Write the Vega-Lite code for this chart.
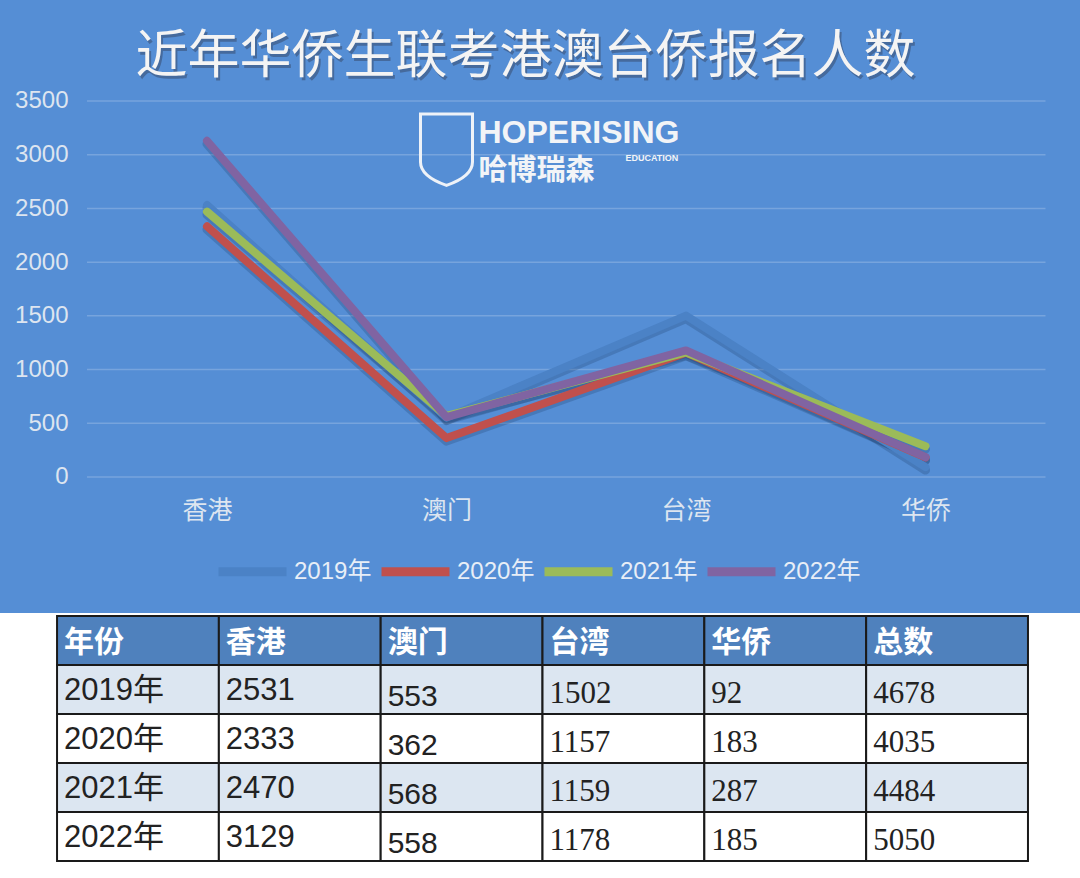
{
  "$schema": "https://vega.github.io/schema/vega-lite/v6.json",
  "background": "white",
  "padding": 0,
  "spacing": 2,
  "config": {"view": {"stroke": null}, "font": "Noto Sans CJK SC"},
  "datasets": {
    "reg": [
      {"年份": "2019年", "香港": 2531, "澳门": 553, "台湾": 1502, "华侨": 92, "总数": 4678},
      {"年份": "2020年", "香港": 2333, "澳门": 362, "台湾": 1157, "华侨": 183, "总数": 4035},
      {"年份": "2021年", "香港": 2470, "澳门": 568, "台湾": 1159, "华侨": 287, "总数": 4484},
      {"年份": "2022年", "香港": 3129, "澳门": 558, "台湾": 1178, "华侨": 185, "总数": 5050}
    ],
    "header": [{"col": "年份"}, {"col": "香港"}, {"col": "澳门"}, {"col": "台湾"}, {"col": "华侨"}, {"col": "总数"}],
    "grid": [{"v": 0}, {"v": 500}, {"v": 1000}, {"v": 1500}, {"v": 2000}, {"v": 2500}, {"v": 3000}, {"v": 3500}]
  },
  "resolve": {"scale": {"x": "independent", "y": "independent", "color": "independent", "fill": "independent"}},
  "vconcat": [
    {
      "width": 1080,
      "height": 613,
      "view": {"fill": "#558ed5", "stroke": null},
      "layer": [
        {
          "data": {"name": "grid"},
          "mark": {"type": "rule", "color": "#ffffff", "opacity": 0.2, "strokeWidth": 1.5, "xOffset": -120, "x2Offset": 120},
          "encoding": {
            "x": {"datum": "香港", "type": "nominal", "scale": {"type": "point", "domain": ["香港", "澳门", "台湾", "华侨"], "padding": 0.7547, "align": 0.5726},
                  "axis": {"title": null, "orient": "bottom", "offset": -103, "labelAngle": 0, "domain": false, "ticks": false, "grid": false, "labelPadding": 0, "labelBaseline": "middle", "labelAlign": "center", "labelFontSize": 25, "labelColor": "#dde5f0", "labelFont": "Noto Sans CJK SC"}},
            "x2": {"datum": "华侨"},
            "y": {"field": "v", "type": "quantitative", "scale": {"domain": [-1266, 4440], "nice": false, "zero": false},
                  "axis": {"title": null, "orient": "left", "offset": -68, "format": "d", "values": [0, 500, 1000, 1500, 2000, 2500, 3000, 3500], "domain": false, "ticks": false, "grid": false, "labelPadding": 0, "labelFontSize": 24, "labelColor": "#dde5f0", "labelFont": "Liberation Sans", "labelBaseline": "middle"}}
          }
        },
        {
          "data": {"name": "reg"},
          "transform": [{"fold": ["香港", "澳门", "台湾", "华侨"], "as": ["region", "count"]}],
          "mark": {"type": "line", "color": "#1d3b66", "opacity": 0.25, "strokeWidth": 9, "yOffset": 3, "strokeCap": "round", "strokeJoin": "round"},
          "encoding": {
            "x": {"field": "region", "type": "nominal"},
            "y": {"field": "count", "type": "quantitative"},
            "detail": {"field": "年份", "type": "nominal"},
            "order": {"value": null}
          }
        },
        {
          "data": {"name": "reg"},
          "transform": [{"fold": ["香港", "澳门", "台湾", "华侨"], "as": ["region", "count"]}],
          "mark": {"type": "line", "strokeWidth": 8, "strokeCap": "round", "strokeJoin": "round"},
          "encoding": {
            "x": {"field": "region", "type": "nominal"},
            "y": {"field": "count", "type": "quantitative"},
            "order": {"value": null},
            "color": {"field": "年份", "type": "nominal",
                      "scale": {"domain": ["2019年", "2020年", "2021年", "2022年"], "range": ["#4b82c6", "#c0504d", "#9bbb59", "#8064a2"]},
                      "legend": {"orient": "none", "legendX": 214, "legendY": 533, "direction": "horizontal", "title": null, "symbolType": "stroke", "symbolStrokeWidth": 9, "symbolSize": 4624, "labelFontSize": 24, "labelColor": "#e8eef7", "labelFont": "Liberation Sans, Noto Sans CJK SC", "columnPadding": -9, "labelOffset": 3, "symbolOpacity": 1}}
          }
        },
        {
          "data": {"values": [{}]},
          "mark": {"type": "text", "text": "近年华侨生联考港澳台侨报名人数", "align": "center", "baseline": "middle", "font": "Noto Sans CJK SC", "fontSize": 52, "color": "#33405a", "opacity": 0.45, "dx": 81, "dy": 4},
          "encoding": {"x": {"datum": "澳门"}, "y": {"datum": 3919}}
        },
        {
          "data": {"values": [{}]},
          "mark": {"type": "text", "text": "近年华侨生联考港澳台侨报名人数", "align": "center", "baseline": "middle", "font": "Noto Sans CJK SC", "fontSize": 52, "color": "#f4f4f4", "dx": 79, "dy": 1},
          "encoding": {"x": {"datum": "澳门"}, "y": {"datum": 3919}}
        },
        {
          "data": {"values": [{}]},
          "mark": {"type": "point", "shape": "M-1,-1.35 L1,-1.35 L1,0.5 Q1,1.05 0,1.4 Q-1,1.05 -1,0.5 Z", "size": 2704, "filled": false, "stroke": "#eef2f8", "strokeWidth": 3, "opacity": 1},
          "encoding": {"x": {"datum": "澳门"}, "y": {"datum": 3053}}
        },
        {
          "data": {"values": [{}]},
          "mark": {"type": "text", "text": "HOPERISING", "align": "left", "baseline": "middle", "font": "Liberation Sans", "fontWeight": "bold", "fontSize": 32, "color": "#f2f4f7", "dx": 32},
          "encoding": {"x": {"datum": "澳门"}, "y": {"datum": 3202}}
        },
        {
          "data": {"values": [{}]},
          "mark": {"type": "text", "text": "哈博瑞森", "align": "left", "baseline": "middle", "font": "Noto Sans CJK SC", "fontWeight": "bold", "fontSize": 29, "color": "#f2f4f7", "dx": 32},
          "encoding": {"x": {"datum": "澳门"}, "y": {"datum": 2846}}
        },
        {
          "data": {"values": [{}]},
          "mark": {"type": "text", "text": "EDUCATION", "align": "left", "baseline": "middle", "font": "Liberation Sans", "fontWeight": "bold", "fontSize": 9, "color": "#f2f4f7", "dx": 179},
          "encoding": {"x": {"datum": "澳门"}, "y": {"datum": 2969}}
        }
      ]
    },
    {
      "width": 1080,
      "height": 245,
      "layer": [
        {
          "data": {"name": "header"},
          "mark": {"type": "rect", "fill": "#4f81bd", "stroke": "#1a1a1a", "strokeWidth": 2},
          "encoding": {
            "x": {"field": "col", "type": "nominal", "scale": {"type": "band", "domain": ["年份", "香港", "澳门", "台湾", "华侨", "总数"], "paddingInner": 0, "paddingOuter": 0.337, "align": 0.523}, "axis": null},
            "y": {"datum": "年份", "type": "nominal", "scale": {"type": "band", "domain": ["年份", "2019年", "2020年", "2021年", "2022年"], "paddingInner": 0, "paddingOuter": 0}, "axis": null}
          }
        },
        {
          "data": {"name": "header"},
          "mark": {"type": "text", "align": "left", "baseline": "middle", "dx": 7, "dy": 2, "font": "Noto Sans CJK SC", "fontWeight": "bold", "fontSize": 30, "color": "#ffffff"},
          "encoding": {
            "x": {"field": "col", "type": "nominal", "bandPosition": 0},
            "y": {"datum": "年份", "type": "nominal"},
            "text": {"field": "col", "type": "nominal"}
          }
        },
        {
          "data": {"name": "reg"},
          "transform": [{"fold": ["年份", "香港", "澳门", "台湾", "华侨", "总数"], "as": ["col", "val"]}],
          "mark": {"type": "rect", "stroke": "#1a1a1a", "strokeWidth": 2},
          "encoding": {
            "x": {"field": "col", "type": "nominal"},
            "y": {"field": "年份", "type": "nominal"},
            "fill": {"field": "年份", "type": "nominal", "scale": {"domain": ["2019年", "2020年", "2021年", "2022年"], "range": ["#dce6f1", "#ffffff", "#dce6f1", "#ffffff"]}, "legend": null}
          }
        },
        {
          "data": {"name": "reg"},
          "transform": [{"fold": ["年份", "香港", "澳门", "台湾", "华侨", "总数"], "as": ["col", "val"]}, {"filter": {"field": "col", "oneOf": ["年份", "香港"]}}],
          "mark": {"type": "text", "align": "left", "baseline": "middle", "dx": 7, "dy": 1, "font": "Liberation Sans, Noto Sans CJK SC", "fontSize": 31, "color": "#222222"},
          "encoding": {
            "x": {"field": "col", "type": "nominal", "bandPosition": 0},
            "y": {"field": "年份", "type": "nominal"},
            "text": {"field": "val", "type": "nominal"}
          }
        },
        {
          "data": {"name": "reg"},
          "transform": [{"fold": ["年份", "香港", "澳门", "台湾", "华侨", "总数"], "as": ["col", "val"]}, {"filter": {"field": "col", "oneOf": ["澳门"]}}],
          "mark": {"type": "text", "align": "left", "baseline": "middle", "dx": 7, "dy": 7, "font": "Liberation Sans", "fontSize": 30, "color": "#222222"},
          "encoding": {
            "x": {"field": "col", "type": "nominal", "bandPosition": 0},
            "y": {"field": "年份", "type": "nominal"},
            "text": {"field": "val", "type": "nominal"}
          }
        },
        {
          "data": {"name": "reg"},
          "transform": [{"fold": ["年份", "香港", "澳门", "台湾", "华侨", "总数"], "as": ["col", "val"]}, {"filter": {"field": "col", "oneOf": ["台湾", "华侨", "总数"]}}],
          "mark": {"type": "text", "align": "left", "baseline": "middle", "dx": 7, "dy": 4, "font": "Liberation Serif", "fontSize": 31, "color": "#222222"},
          "encoding": {
            "x": {"field": "col", "type": "nominal", "bandPosition": 0},
            "y": {"field": "年份", "type": "nominal"},
            "text": {"field": "val", "type": "nominal"}
          }
        }
      ]
    }
  ]
}
